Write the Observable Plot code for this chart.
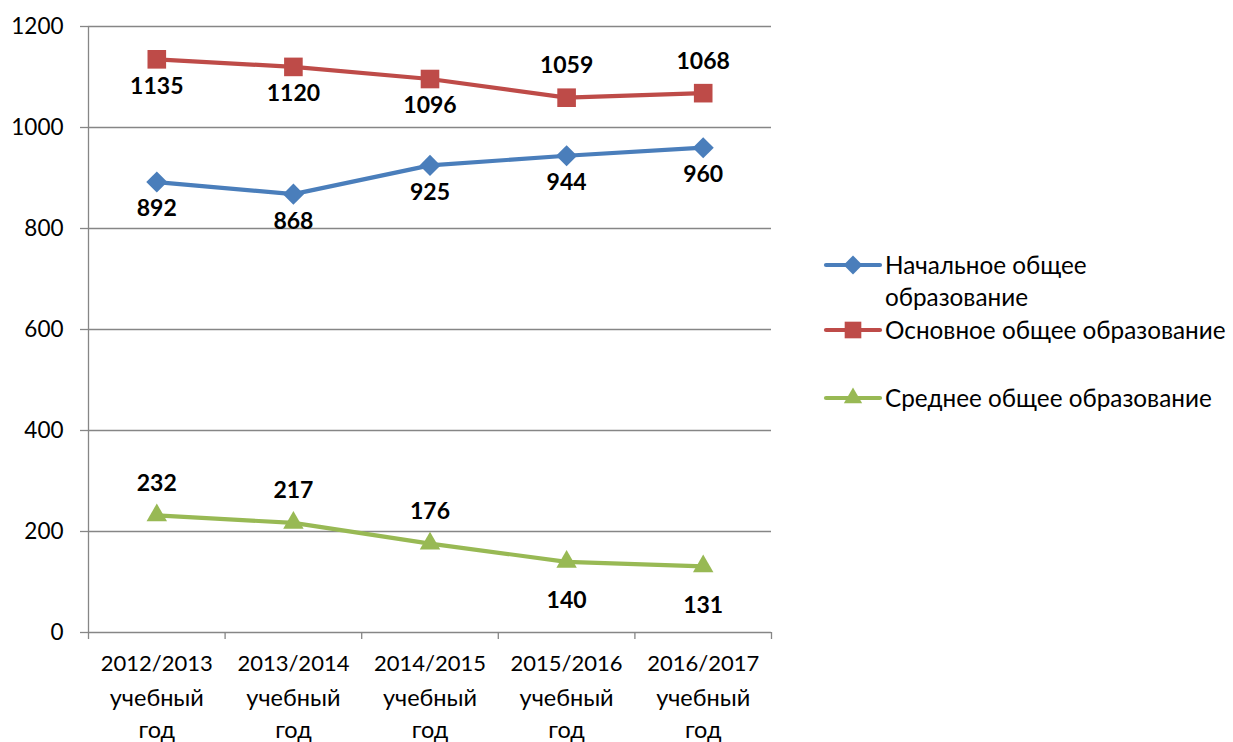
<!DOCTYPE html>
<html>
<head>
<meta charset="utf-8">
<script src="https://cdn.jsdelivr.net/npm/d3@7"></script>
<script src="https://cdn.jsdelivr.net/npm/@observablehq/plot@0.6"></script>
<style>
  html, body { margin: 0; padding: 0; background: #fff; }
  #chart { position: relative; width: 1233px; height: 742px; }
</style>
</head>
<body>
<div id="chart"></div>
<script>
const years = ["2012/2013", "2013/2014", "2014/2015", "2015/2016", "2016/2017"];
const yearSuffix = "учебный\nгод";
const yTicks = [0, 200, 400, 600, 800, 1000, 1200];
const seriesNames = ["Начальное общее образование", "Основное общее образование", "Среднее общее образование"];
const legendLines = [["Начальное общее", "образование"], ["Основное общее образование"], ["Среднее общее образование"]];
const primaryValues = [892, 868, 925, 944, 960];
const basicValues = [1135, 1120, 1096, 1059, 1068];
const secondaryValues = [232, 217, 176, 140, 131];
const primaryLabelPos = ["below", "below", "below", "below", "below"];
const basicLabelPos = ["below", "below", "below", "above", "above"];
const secondaryLabelPos = ["above", "above", "above", "below", "below"];
const colors = ["#4a7ebb", "#be4b48", "#98b954"];
const symbols = ["diamond2", "square", "triangle"];
const radii = [9.5, 10.5, 7.6];

const valueSets = [primaryValues, basicValues, secondaryValues];
const posSets = [primaryLabelPos, basicLabelPos, secondaryLabelPos];
const rows = [];
valueSets.forEach((vals, s) => {
  vals.forEach((v, i) => {
    rows.push({i, year: years[i], series: seriesNames[s], s, value: v, pos: posSets[s][i]});
  });
});

const font = "Lato, 'Open Sans', sans-serif";
const gridColor = "#868686";

const plot = Plot.plot({
  width: 1233,
  height: 742,
  marginLeft: 88,
  marginRight: 462,
  marginTop: 26,
  marginBottom: 110,
  style: {fontFamily: font, fontSize: "22px", color: "#000", background: "#fff"},
  x: {domain: [0, years.length]},
  y: {domain: [0, 1200]},
  color: {domain: seriesNames, range: colors},
  symbol: {domain: seriesNames, range: symbols},
  r: {type: "identity"},
  marks: [
    Plot.gridY(yTicks, {stroke: gridColor, strokeOpacity: 1, strokeWidth: 1.3}),
    Plot.axisY(yTicks, {tickSize: 8, tickPadding: 17, tickFormat: d3.format("d"), stroke: gridColor, strokeWidth: 1.3, fontSize: 22.5, fill: "#000", label: null}),
    Plot.ruleX([0], {stroke: gridColor, strokeWidth: 1.3}),
    Plot.axisX(d3.range(years.length + 1), {tickSize: 7, tickFormat: () => "", stroke: gridColor, strokeWidth: 1.3, label: null}),
    Plot.text(years, {
      x: (d, i) => i + 0.5, y: () => 0,
      text: d => d,
      lineAnchor: "top", dy: 23, fontSize: 22, fill: "#000"
    }),
    Plot.text(years, {
      x: (d, i) => i + 0.5, y: () => 0,
      text: () => yearSuffix,
      lineAnchor: "top", dy: 51, lineHeight: 1.36, fontSize: 23.5, fill: "#000"
    }),
    Plot.line(rows, {x: d => d.i + 0.5, y: "value", z: "series", stroke: "series", strokeWidth: 4.2}),
    Plot.dot(rows, {x: d => d.i + 0.5, y: "value", symbol: "series", fill: "series", r: d => radii[d.s], stroke: null}),
    Plot.text(rows.filter(d => d.pos === "above"), {x: d => d.i + 0.5, y: "value", text: d => String(d.value), dy: -32, fontWeight: "bold", fontSize: 23, fill: "#000"}),
    Plot.text(rows.filter(d => d.pos === "below" && d.s !== 2), {x: d => d.i + 0.5, y: "value", text: d => String(d.value), dy: 27, fontWeight: "bold", fontSize: 23, fill: "#000"}),
    Plot.text(rows.filter(d => d.pos === "below" && d.s === 2), {x: d => d.i + 0.5, y: "value", text: d => String(d.value), dy: 39, fontWeight: "bold", fontSize: 23, fill: "#000"})
  ]
});

document.getElementById("chart").appendChild(plot);

// Legend
const svg = d3.select(plot);
const legendRowY = [265, 330, 398];
const lg = svg.append("g").attr("font-family", font).attr("font-size", 24.3).attr("text-anchor", "start");
seriesNames.forEach((name, s) => {
  const y = legendRowY[s];
  const g = lg.append("g");
  g.append("line").attr("x1", 826).attr("x2", 880).attr("y1", y).attr("y2", y)
    .attr("stroke", colors[s]).attr("stroke-width", 4.2).attr("stroke-linecap", "round");
  const sym = {diamond2: d3.symbolDiamond2, square: d3.symbolSquare, triangle: d3.symbolTriangle}[symbols[s]];
  g.append("path").attr("transform", `translate(853,${y})`)
    .attr("d", d3.symbol(sym, Math.PI * radii[s] * radii[s] * 0.8)())
    .attr("fill", colors[s]);
  legendLines[s].forEach((t, k) => {
    g.append("text").attr("x", 885).attr("y", y + k * 32).attr("dy", "0.35em")
      .attr("text-anchor", "start").attr("fill", "#000").text(t);
  });
});
</script>
</body>
</html>
